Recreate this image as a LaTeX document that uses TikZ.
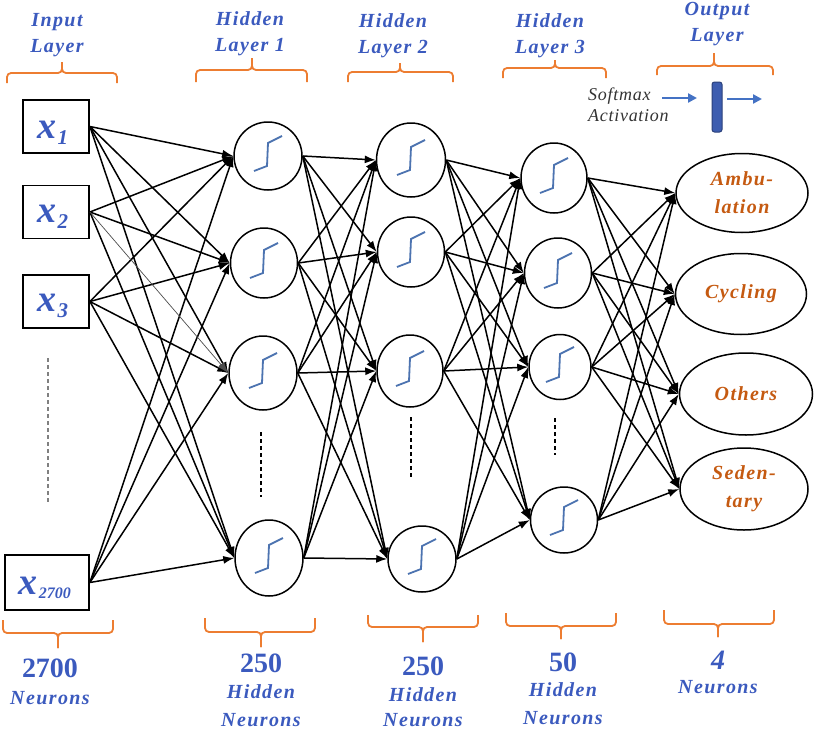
\documentclass[tikz,border=0pt]{standalone}
\usepackage{fontspec}
\setmainfont{Liberation Serif}
\newfontfamily\spacedfont[LetterSpace=7]{Liberation Serif}
\newfontfamily\lightspaced[LetterSpace=4]{Liberation Serif}
\usetikzlibrary{shapes.geometric,arrows.meta,calc}
\definecolor{lblue}{RGB}{59,90,190}
\definecolor{brorange}{RGB}{237,125,49}
\definecolor{outorange}{RGB}{197,90,17}
\definecolor{stepblue}{RGB}{76,115,176}
\definecolor{barblue}{RGB}{61,93,176}
\definecolor{arrblue}{RGB}{68,114,196}
\newcommand\mybrace[6]{%
  \draw[brc] (#1,#6) -- (#1,#5) -- (#3,#5) -- (#3,#4);
  \draw[brc] (#2,#6) -- (#2,#5) -- (#3,#5) -- (#3,#4);}
\newcommand\stepglyph[1]{%
  \draw[stepline, shift={(#1.center)}] (-14,15) -- (-1,10) -- (0,-13) -- (14,-20);}
\begin{document}
\begin{tikzpicture}[x=1pt,y=-1pt,
  inbox/.style={draw, line width=1.8pt, minimum width=66pt, minimum height=53pt, inner sep=0pt},
  xlab/.style={text=lblue, font=\bfseries\itshape, inner sep=0pt},
  neuron/.style={draw, ellipse, line width=1.5pt, inner sep=0pt},
  outnode/.style={draw, ellipse, line width=1.5pt, inner sep=0pt, text=outorange,
     font=\fontsize{20}{28}\selectfont\spacedfont\bfseries\itshape, align=center},
  conn/.style={-{Latex[length=11pt,width=8pt]}, line width=1.5pt},
  brc/.style={brorange, line width=1.8pt, rounded corners=4pt},
  lbl/.style={text=lblue, font=\fontsize{20}{26}\selectfont\spacedfont\bfseries\itshape, align=center, inner sep=0pt},
  num/.style={text=lblue, font=\fontsize{28}{28}\selectfont\bfseries, inner sep=0pt},
  stepline/.style={stepblue, line width=1.8pt},
  dots/.style={line width=1.5pt, dash pattern=on 4pt off 3pt}
]
\useasboundingbox (0,0) rectangle (815,731);

% input boxes
\node[inbox] (in1) at (56,126.5) {};
\node[inbox] (in2) at (56,212) {};
\node[inbox] (in3) at (56,301.5) {};
\node[inbox, minimum width=84pt, minimum height=55pt] (in4) at (47,582.5) {};
\node[xlab] (t1) at (53,133) {\fontsize{38}{38}\selectfont x\kern1pt\raisebox{-6pt}{\fontsize{21}{21}\selectfont 1}};
\node[xlab] (t2) at (53,217) {\fontsize{38}{38}\selectfont x\kern1pt\raisebox{-6pt}{\fontsize{21}{21}\selectfont 2}};
\node[xlab] (t3) at (53,306) {\fontsize{38}{38}\selectfont x\kern1pt\raisebox{-6pt}{\fontsize{21}{21}\selectfont 3}};
\node[xlab] (t4) at (45,588) {\fontsize{38}{38}\selectfont x\kern1pt\raisebox{-4pt}{\fontsize{16}{16}\selectfont 2700}};

% hidden layer 1
\node[neuron, minimum width=68pt, minimum height=68pt] (a1) at (268,156) {};
\node[neuron, minimum width=67pt, minimum height=70pt] (a2) at (264,263) {};
\node[neuron, minimum width=68pt, minimum height=74pt] (a3) at (263,373) {};
\node[neuron, minimum width=68pt, minimum height=76pt] (a4) at (269,558) {};
% hidden layer 2
\node[neuron, minimum width=69pt, minimum height=74pt] (b1) at (411,160) {};
\node[neuron, minimum width=67pt, minimum height=70pt] (b2) at (411,252) {};
\node[neuron, minimum width=66pt, minimum height=72pt] (b3) at (410,371) {};
\node[neuron, minimum width=68pt, minimum height=66pt] (b4) at (422,559) {};
% hidden layer 3
\node[neuron, minimum width=66pt, minimum height=70pt] (c1) at (554,178) {};
\node[neuron, minimum width=67pt, minimum height=70pt] (c2) at (558,273) {};
\node[neuron, minimum width=62pt, minimum height=65pt] (c3) at (560,367) {};
\node[neuron, minimum width=67pt, minimum height=66pt] (c4) at (564,520) {};
% output
\node[outnode, minimum width=132pt, minimum height=79pt] (o1) at (742,193) {Ambu-\\lation};
\node[outnode, minimum width=131pt, minimum height=81pt] (o2) at (741,294) {Cycling};
\node[outnode, minimum width=133pt, minimum height=82pt] (o3) at (746,394) {Others};
\node[outnode, minimum width=128pt, minimum height=82pt] (o4) at (744,489) {Seden-\\tary};

\foreach \n in {a1,a2,a3,a4,b1,b2,b3,b4,c1,c2,c3,c4} {\stepglyph{\n}}

% dashed continuation marks
\draw[dots, gray] (48,358) -- (48,503);
\draw[dots] (261,432) -- (261,497);
\draw[dots] (411,417) -- (411,477);
\draw[dots] (555,418) -- (555,455);

% connections
\foreach \s in {in1,in3,in4} \foreach \t in {a1,a2,a3,a4} \draw[conn] (\s.east) -- (\t.west);
\foreach \t in {a1,a2,a4} \draw[conn] (in2.east) -- (\t.west);
\draw[-{Latex[length=11pt,width=8pt]}, line width=0.7pt, black!70] (in2.east) -- (a3.west);
\foreach \s in {a1,a2,a3,a4} \foreach \t in {b1,b2,b3,b4} \draw[conn] (\s.east) -- (\t.west);
\foreach \s in {b1,b2,b3,b4} \foreach \t in {c1,c2,c3,c4} \draw[conn] (\s.east) -- (\t.west);
\foreach \s in {c1,c2,c3,c4} \foreach \t in {o1,o2,o3,o4} \draw[conn] (\s.east) -- (\t.west);

% softmax
\node[anchor=west, align=left, font=\fontsize{18}{21}\selectfont\lightspaced\itshape, text=black!80, inner sep=0pt] (smx) at (588,105) {Softmax\\Activation};
\node[draw=barblue!70!black, fill=barblue, line width=1pt, rounded corners=2.5pt, minimum width=10pt, minimum height=50pt, inner sep=0pt] (bar) at (717,107) {};
\coordinate (sa) at (662,98);
\coordinate (sb) at (697,98);
\coordinate (sc) at (727,99);
\coordinate (sd) at (762,99);
\draw[arrblue, line width=2.5pt, -{Triangle[length=9pt,width=9pt]}] (sa) -- (sb);
\draw[arrblue, line width=2.5pt, -{Triangle[length=9pt,width=9pt]}] (sc) -- (sd);

% top labels
\node[lbl] (l1) at (57,35) {Input\\Layer};
\node[lbl] (l2) at (250,34) {Hidden\\Layer 1};
\node[lbl] (l3) at (393,36) {Hidden\\Layer 2};
\node[lbl] (l4) at (550,36) {Hidden\\Layer 3};
\node[lbl] (l5) at (717,24) {Output\\Layer};

% top braces
\mybrace{7}{117}{62}{62}{73}{83}
\mybrace{196}{307}{252}{58}{70}{82}
\mybrace{348}{453}{400}{63}{72}{82}
\mybrace{503}{606}{555}{60}{68}{78}
\mybrace{657}{773}{714}{53}{66}{75}

% bottom braces
\mybrace{3}{113}{58}{648}{633}{620}
\mybrace{205}{315}{261}{647}{632}{618}
\mybrace{368}{478}{423}{642}{627}{615}
\mybrace{506}{616}{561}{639}{626}{613}
\mybrace{664}{774}{718}{637}{624}{610}

% bottom labels
\node[num] (n1) at (50,668) {2700};
\node[lbl] (m1) at (50,698) {Neurons};
\node[num] (n2) at (261,663) {250};
\node[lbl] (m2) at (261,692) {Hidden};
\node[lbl] (k2) at (261,720) {Neurons};
\node[num] (n3) at (423,666) {250};
\node[lbl] (m3) at (423,695) {Hidden};
\node[lbl] (k3) at (423,720) {Neurons};
\node[num] (n4) at (563,662) {50};
\node[lbl] (m4) at (563,690) {Hidden};
\node[lbl] (k4) at (563,718) {Neurons};
\node[num, font=\fontsize{28}{28}\selectfont\bfseries\itshape] (n5) at (718,660) {4};
\node[lbl] (m5) at (718,687) {Neurons};
\end{tikzpicture}
\end{document}
